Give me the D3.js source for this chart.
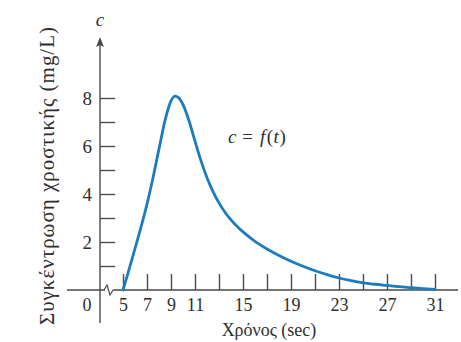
<!DOCTYPE html>
<html>
<head>
<meta charset="utf-8">
<script src="https://cdn.jsdelivr.net/npm/d3@7"></script>
<style>
  html, body { margin: 0; padding: 0; background: #fff; }
  svg { display: block; }
  text { font-family: "Liberation Serif", "Times New Roman", "DejaVu Serif", serif; fill: #2e2e2e; }
</style>
</head>
<body>
<svg id="chart" width="461" height="342"></svg>
<script>
// Dye concentration over time (time in sec, concentration in mg/L)
const timeSec = [5, 5.5, 6, 6.5, 7, 7.5, 8, 8.5, 9, 9.35, 9.7, 10, 10.5, 11, 11.5, 12, 12.5, 13, 13.5, 14, 15, 16, 17, 18, 19, 20, 21, 22, 23, 24, 25, 26, 27, 28, 29, 30, 31];
const concentration = [0, 0.85, 1.72, 2.62, 3.58, 4.68, 5.88, 7.06, 7.88, 8.08, 7.98, 7.72, 7.05, 6.2, 5.38, 4.68, 4.1, 3.63, 3.24, 2.92, 2.42, 2.03, 1.71, 1.44, 1.2, 0.99, 0.8, 0.64, 0.5, 0.39, 0.3, 0.24, 0.19, 0.14, 0.1, 0.06, 0.02];

const xTickValues = [5, 7, 9, 11, 13, 15, 17, 19, 21, 23, 25, 27, 29, 31];
const xTickLabels = [5, 7, 9, 11, 15, 19, 23, 27, 31];
const yTickValues = [1, 2, 3, 4, 5, 6, 7, 8];
const yTickLabels = [2, 4, 6, 8];

const xTitle = "Χρόνος (sec)";
const yTitle = "Συγκέντρωση χροστικής (mg/L)";

const svg = d3.select("#chart");
const axisColor = "#4a4a4a";
const lineColor = "#1b7cc0";

const x = d3.scaleLinear().domain([5, 31]).range([123, 435]);
const y = d3.scaleLinear().domain([0, 8]).range([290, 98]);
const axisX = 100;  // vertical axis sits left of the broken time axis
const baseY = y(0);

// main axis lines
svg.append("line")
  .attr("x1", 67).attr("x2", 458).attr("y1", baseY).attr("y2", baseY)
  .attr("stroke", axisColor).attr("stroke-width", 1.4);
svg.append("line")
  .attr("x1", axisX).attr("x2", axisX).attr("y1", 44).attr("y2", 323)
  .attr("stroke", axisColor).attr("stroke-width", 1.4);

// arrow head at top of the concentration axis
svg.append("path")
  .attr("d", `M${axisX},37 L${axisX - 4},47 L${axisX},45 L${axisX + 4},47 Z`)
  .attr("fill", axisColor);

// axis break on the time axis
svg.append("rect").attr("x", 105).attr("y", baseY - 2).attr("width", 9).attr("height", 4).attr("fill", "#fff");
svg.append("path")
  .attr("d", `M104,${baseY} L107,${baseY - 5} L110,${baseY + 5} L113,${baseY} L115,${baseY}`)
  .attr("fill", "none").attr("stroke", axisColor).attr("stroke-width", 1.2);

// time axis: ticks pointing up, labels below
const xAxis = d3.axisBottom(x)
  .tickValues(xTickValues)
  .tickSizeInner(-16).tickSizeOuter(0)
  .tickPadding(8)
  .tickFormat(d => xTickLabels.includes(d) ? d : "");
const gx = svg.append("g").attr("transform", `translate(0,${baseY})`).call(xAxis);
gx.select(".domain").remove();
gx.selectAll(".tick line").attr("stroke", axisColor).attr("stroke-width", 1.4);
gx.selectAll(".tick text").attr("font-size", 18).attr("fill", "#2e2e2e");

// concentration axis: ticks pointing right, labels on the left
const yAxis = d3.axisLeft(y)
  .tickValues(yTickValues)
  .tickSizeInner(-15).tickSizeOuter(0)
  .tickPadding(8)
  .tickFormat(d => yTickLabels.includes(d) ? d : "");
const gy = svg.append("g").attr("transform", `translate(${axisX},0)`).call(yAxis);
gy.select(".domain").remove();
gy.selectAll(".tick line").attr("stroke", axisColor).attr("stroke-width", 1.4);
gy.selectAll(".tick text").attr("font-size", 19).attr("fill", "#2e2e2e");
gx.attr("font-family", null); gy.attr("font-family", null);

// origin label
svg.append("text").attr("x", 87).attr("y", 311).attr("text-anchor", "middle")
  .attr("font-size", 18).text("0");

// concentration curve
const pts = timeSec.map((t, i) => [t, concentration[i]]);
const line = d3.line().x(d => x(d[0])).y(d => y(d[1])).curve(d3.curveMonotoneX);
svg.append("path").datum(pts)
  .attr("d", line)
  .attr("fill", "none").attr("stroke", lineColor).attr("stroke-width", 2.8)
  .attr("stroke-linejoin", "round").attr("stroke-linecap", "round");

// axis variable name at the top
svg.append("text").attr("x", axisX).attr("y", 26).attr("text-anchor", "middle")
  .attr("font-size", 19).attr("font-style", "italic").text("c");

// curve label c = f(t), set with math spacing
const lblY = 143;
svg.append("text").attr("x", 228).attr("y", lblY).attr("font-size", 19).attr("font-style", "italic").text("c");
svg.append("text").attr("x", 247.5).attr("y", lblY).attr("text-anchor", "middle").attr("font-size", 19).text("=");
const f = svg.append("text").attr("x", 260).attr("y", lblY).attr("font-size", 19);
f.append("tspan").attr("font-style", "italic").text("f");
f.append("tspan").attr("dx", 1.5).text("(");
f.append("tspan").attr("font-style", "italic").attr("dx", 0.5).text("t");
f.append("tspan").attr("dx", 0.5).text(")");

// axis titles
svg.append("text").attr("x", 269).attr("y", 336).attr("text-anchor", "middle")
  .attr("font-size", 18).text(xTitle);
svg.append("text")
  .attr("transform", "translate(54,176) rotate(-90)")
  .attr("text-anchor", "middle")
  .attr("font-size", 21)
  .attr("textLength", 298).attr("lengthAdjust", "spacing")
  .text(yTitle);
</script>
</body>
</html>
